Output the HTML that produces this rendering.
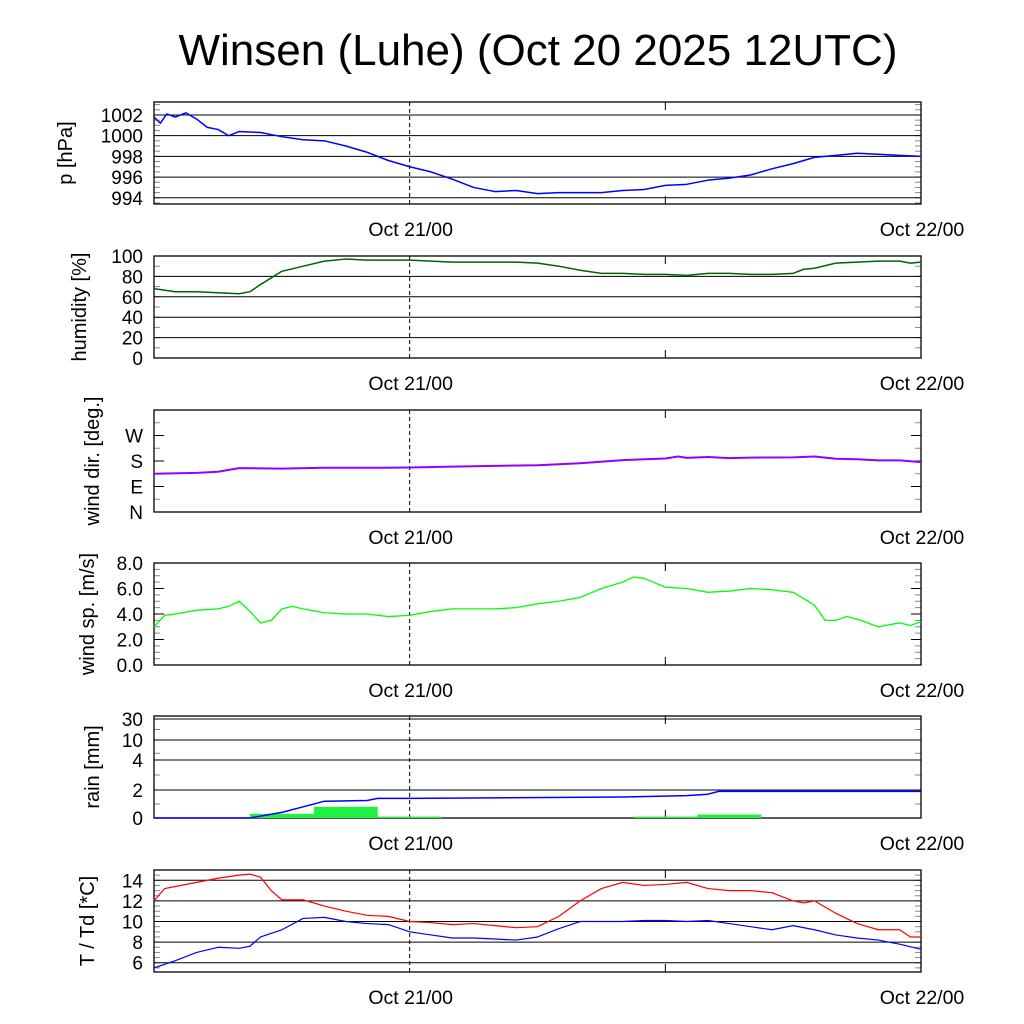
<!DOCTYPE html>
<html><head><meta charset="utf-8"><style>
body{margin:0;background:#fff}
svg{display:block;font-family:"Liberation Sans",sans-serif}
</style></head><body>
<svg id="c" width="1024" height="1024" viewBox="0 0 1024 1024">
<text x="538" y="65" font-size="44" text-anchor="middle">Winsen (Luhe) (Oct 20 2025 12UTC)</text>
</svg>
<script>
const NS="http://www.w3.org/2000/svg";
const svg=document.getElementById('c');
const xTickLabels=["Oct 21/00","Oct 22/00"];
const xTickHours=[12,36];
// pressure
const pT=[0,0.3,0.6,1,1.5,2,2.5,3,3.5,4,5,6,7,8,9,10,11,12,13,14,15,16,17,18,19,20,21,22,23,24,25,26,27,28,29,30,31,32,33,34,35,36];
const pV=[1001.8,1001.2,1002.1,1001.8,1002.2,1001.6,1000.8,1000.6,1000.0,1000.4,1000.3,999.9,999.6,999.5,999.0,998.4,997.6,997.0,996.5,995.8,995.0,994.6,994.7,994.4,994.5,994.5,994.5,994.7,994.8,995.2,995.3,995.7,995.9,996.2,996.8,997.3,997.9,998.1,998.3,998.2,998.1,998.0];
// humidity
const hT=[0,1,2,3,4,4.5,5,6,7,8,9,10,11,12,13,14,15,16,17,18,19,20,21,22,23,24,25,26,27,28,29,30,30.5,31,32,33,34,35,35.5,36];
const hV=[68,65,65,64,63,65,72,85,90,95,97,96,96,96,95,94,94,94,94,93,90,86,83,83,82,82,81,83,83,82,82,83,87,88,93,94,95,95,93,94];
// wind direction
const dT=[0,2,3,4,6,8,10,12,14,16,18,20,22,24,24.6,25,26,27,28,30,31,32,33,34,35,36];
const dV=[135,138,142,155,153,156,156,157,160,163,165,172,183,189,196,191,194,190,192,193,196,188,186,182,182,176];
// wind speed
const sT=[0,0.5,1,2,3,3.5,4,4.5,5,5.5,6,6.5,7,8,9,10,11,12,13,14,15,16,17,18,19,20,21,22,22.5,23,24,25,26,27,28,29,30,31,31.5,32,32.5,33,34,35,35.5,36];
const sV=[3.0,3.9,4.0,4.3,4.4,4.6,5.0,4.2,3.3,3.5,4.4,4.6,4.4,4.1,4.0,4.0,3.8,3.9,4.2,4.4,4.4,4.4,4.5,4.8,5.0,5.3,6.0,6.5,6.9,6.8,6.1,6.0,5.7,5.8,6.0,5.9,5.7,4.7,3.5,3.5,3.8,3.6,3.0,3.3,3.1,3.4];
// rain
const rainStart=[4.5,7.5,10.5,22.5,25.5];
const rainAmt=[0.3,0.8,0.1,0.1,0.25];
const cT=[0,4.5,6,7,8,10,10.5,12,22,25,26,26.5,36];
const cV=[0,0,0.4,0.8,1.2,1.25,1.4,1.4,1.5,1.6,1.7,1.9,1.9];
const rainTicks=[0,2,4,10,30];
// temperature / dew point
const tT=[0,0.5,1,2,3,4,4.5,5,5.5,6,7,8,9,10,11,12,13,14,15,16,17,18,19,20,21,22,23,24,25,26,27,28,29,30,30.5,31,32,33,34,35,35.5,36];
const tV=[12,13.2,13.4,13.8,14.2,14.5,14.6,14.3,13,12.1,12.1,11.5,11.0,10.6,10.5,10.0,9.9,9.7,9.8,9.6,9.4,9.5,10.5,12.0,13.2,13.8,13.5,13.6,13.8,13.2,13.0,13.0,12.8,12.0,11.8,12.0,10.8,9.8,9.2,9.2,8.5,8.5];
const tdT=[0,1,2,3,4,4.5,5,6,7,8,9,10,11,12,13,14,15,16,17,18,19,20,21,22,23,24,25,26,27,28,29,30,31,32,33,34,35,36];
const tdV=[5.5,6.2,7.0,7.5,7.4,7.6,8.5,9.2,10.3,10.4,10.0,9.8,9.7,9.0,8.7,8.4,8.4,8.3,8.2,8.5,9.3,10.0,10.0,10.0,10.1,10.1,10.0,10.1,9.8,9.5,9.2,9.6,9.2,8.7,8.4,8.2,7.8,7.3];

const X0=154,X1=921,H=36;
const xs=t=>X0+(X1-X0)*t/H;
function el(tag,attrs,parent){const e=document.createElementNS(NS,tag);for(const k in attrs)e.setAttribute(k,attrs[k]);(parent||svg).appendChild(e);return e;}

function panel(name,top,bot,ymap,ticks,labels,grid,ylabel,lx,minor){
  const g=el('g',{});
  
  
  minor.forEach(v=>{const y=ymap(v);
    el('line',{x1:X0,x2:X0+6,y1:y,y2:y,stroke:'#888','stroke-width':1},g);
    el('line',{x1:X1-6,x2:X1,y1:y,y2:y,stroke:'#888','stroke-width':1},g);});
  ticks.forEach((v,i)=>{const y=ymap(v);
    if(grid) el('line',{x1:X0,x2:X1,y1:y,y2:y,stroke:'#000','stroke-width':1},g);
    else{el('line',{x1:X0,x2:X0+10,y1:y,y2:y,stroke:'#000'},g);el('line',{x1:X1-10,x2:X1,y1:y,y2:y,stroke:'#000'},g);}
    const t=el('text',{x:143,y:y+7,'font-size':19,'text-anchor':'end'},g);t.textContent=labels[i];
    
    });
  el('line',{x1:xs(12),x2:xs(12),y1:top,y2:bot,stroke:'#000','stroke-dasharray':'4,3'},g);
  el('line',{x1:xs(24),x2:xs(24),y1:bot-8,y2:bot,stroke:'#000'},g);
  el('line',{x1:xs(24),x2:xs(24),y1:top,y2:top+8,stroke:'#000'},g);
  el('rect',{x:X0,y:top,width:X1-X0,height:bot-top,fill:'none',stroke:'#000','stroke-width':1.3},g);
  xTickHours.forEach((h,i)=>{const t=el('text',{x:xs(h)+1,y:bot+32,'font-size':19.5,'text-anchor':'middle'},g);t.textContent=xTickLabels[i];
    
    });
  const yl=el('text',{x:lx,y:(top+bot)/2,'font-size':20,'text-anchor':'middle',transform:`rotate(-90 ${lx} ${(top+bot)/2})`},g);
  yl.textContent=ylabel;
  
  
  return g;
}
function line(g,T,V,ymap,color,w,name){
  const p=el('polyline',{points:T.map((t,i)=>xs(t)+','+ymap(V[i])).join(' '),fill:'none',stroke:color,'stroke-width':w,'stroke-linejoin':'round'},g);
  
  
}
function lin(top,bot,lo,hi){return v=>bot-(v-lo)/(hi-lo)*(bot-top);}
function range(a,b,s){const r=[];for(let v=a;v<=b+1e-9;v+=s)r.push(+v.toFixed(3));return r;}

let ym=lin(102,204,993.4,1003.25);
let g=panel('pressure',102,204,ym,[994,996,998,1000,1002],['994','996','998','1000','1002'],true,'p [hPa]',72,range(993.5,1003,0.5));
line(g,pT,pV,ym,'#0000ff',1.5,'pressure-line');
ym=lin(256,358,0,100);
g=panel('humidity',256,358,ym,[0,20,40,60,80,100],['0','20','40','60','80','100'],true,'humidity [%]',86,range(0,100,10));
line(g,hT,hV,ym,'#006400',1.5,'humidity-line');
ym=lin(410,512,0,360);
g=panel('winddir',410,512,ym,[0,90,180,270],['N','E','S','W'],false,'wind dir. [deg.]',99,range(0,360,45));
line(g,dT,dV,ym,'#9400ff',2,'wind-direction-line');
ym=lin(563,665,0,8);
g=panel('windspeed',563,665,ym,[0,2,4,6,8],['0.0','2.0','4.0','6.0','8.0'],false,'wind sp. [m/s]',94,range(0,8,0.5));
line(g,sT,sV,ym,'#00ff00',1.3,'wind-speed-line');
const rPix=[818,790,760,740,719];
function rmap(v){for(let i=1;i<rainTicks.length;i++){if(v<=rainTicks[i]){const a=rainTicks[i-1],b=rainTicks[i];return rPix[i-1]+(v-a)/(b-a)*(rPix[i]-rPix[i-1]);}}return rPix[rPix.length-1];}
g=panel('rain',716,818,rmap,rainTicks,['0','2','4','10','30'],true,'rain [mm]',99,[1,3,6,20]);
rainStart.forEach((s,i)=>{const r=el('rect',{x:xs(s),y:rmap(rainAmt[i]),width:xs(s+3)-xs(s),height:818-rmap(rainAmt[i]),fill:'#22ee44'},g);
  
  });
line(g,cT,cV,rmap,'#0000ff',1.5,'cumulative-rain-line');
ym=lin(870,972,5.1,15);
g=panel('temperature',870,972,ym,[6,8,10,12,14],['6','8','10','12','14'],true,'T / Td [*C]',94,range(5.5,15,0.5));
line(g,tT,tV,ym,'#ff0000',1.2,'temperature-line');
line(g,tdT,tdV,ym,'#0000ff',1.2,'dewpoint-line');
</script>
</body></html>
